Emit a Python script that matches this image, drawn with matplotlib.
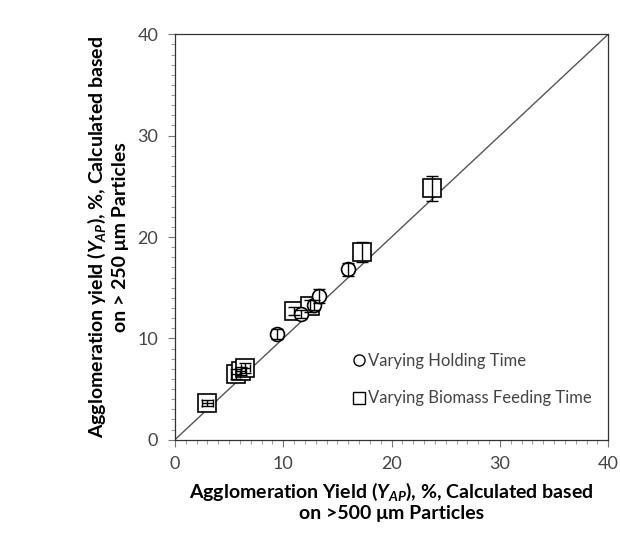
import matplotlib
matplotlib.use('Agg')
import matplotlib.pyplot as plt
from matplotlib.ticker import MultipleLocator
from matplotlib.lines import Line2D

plt.rcParams['font.family'] = ['Lato', 'DejaVu Sans']
plt.rcParams['mathtext.fontset'] = 'custom'
plt.rcParams['mathtext.rm'] = 'Lato:bold'
plt.rcParams['mathtext.it'] = 'Lato:italic:bold'

# varying holding time (circles)
hold_x = [9.4, 11.6, 12.8, 13.3, 16.0]
hold_y = [10.4, 12.4, 13.3, 14.2, 16.8]
hold_yerr = [0.5, 0.4, 0.5, 0.7, 0.6]

# varying biomass feeding time (squares)
feed_x = [3.0, 5.6, 6.1, 6.5, 11.0, 12.5, 17.3, 23.7]
feed_y = [3.6, 6.5, 6.8, 7.1, 12.7, 13.2, 18.5, 24.8]
feed_yerr = [0.3, 0.5, 0.4, 0.5, 0.4, 0.6, 1.0, 1.2]
feed_xerr = [0.5, 0.4, 0.5, 0.4, 0.0, 0.0, 0.0, 0.0]

fig = plt.figure(figsize=(6.2, 5.35), dpi=100)
ax = fig.add_axes([0.282, 0.178, 0.699, 0.758])

ax.plot([0, 40], [0, 40], color='#555555', lw=1.0, zorder=1)

# markers first, error bars on top of them
ax.plot(feed_x, feed_y, 's', ms=13, mfc='white', mec='black', mew=1.2, zorder=3)
ax.plot(hold_x, hold_y, 'o', ms=10, mfc='white', mec='black', mew=1.2, zorder=4)
ax.errorbar(feed_x, feed_y, yerr=feed_yerr, fmt='none',
            ecolor='black', elinewidth=1.0, capsize=4, zorder=5)
ax.errorbar(hold_x, hold_y, yerr=hold_yerr, fmt='none',
            ecolor='black', elinewidth=1.0, capsize=4, zorder=5)
# horizontal bars only where there is a spread in x
hx = [(x, y, e) for x, y, e in zip(feed_x, feed_y, feed_xerr) if e > 0]
ax.errorbar([p[0] for p in hx], [p[1] for p in hx], xerr=[p[2] for p in hx],
            fmt='none', ecolor='black', elinewidth=1.0, capsize=3, zorder=5)

ax.set_xlim(0, 40)
ax.set_ylim(0, 40)
ax.xaxis.set_major_locator(MultipleLocator(10))
ax.yaxis.set_major_locator(MultipleLocator(10))
ax.xaxis.set_minor_locator(MultipleLocator(1))
ax.yaxis.set_minor_locator(MultipleLocator(1))
ax.tick_params(which='major', length=5, width=0.8, color='#777777',
               labelsize=13, labelcolor='#444444', pad=7)
ax.tick_params(which='minor', length=3, width=0.6, color='#888888')
for s in ax.spines.values():
    s.set_color('#333333')
    s.set_linewidth(0.9)

ax.set_xlabel('Agglomeration Yield ($Y_{AP}$), %, Calculated based\n'
              'on >500 \u03bcm Particles', fontsize=14, fontweight='bold',
              labelpad=6, linespacing=1.15)
ax.set_ylabel('Agglomeration yield ($Y_{AP}$), %, Calculated based\n'
              'on > 250 \u03bcm Particles', fontsize=14, fontweight='bold',
              labelpad=6, linespacing=1.3)

hs = [Line2D([], [], ls='none', marker='o', ms=8, mfc='white', mec='black'),
      Line2D([], [], ls='none', marker='s', ms=9, mfc='white', mec='black')]
ax.legend(hs, ['Varying Holding Time', 'Varying Biomass Feeding Time'],
          loc='upper left', bbox_to_anchor=(0.395, 0.235), borderpad=0,
          frameon=False, fontsize=12, handlelength=0.6, handletextpad=0.2,
          labelspacing=1.3, labelcolor='#444444')

fig.savefig('out.png', dpi=100)
